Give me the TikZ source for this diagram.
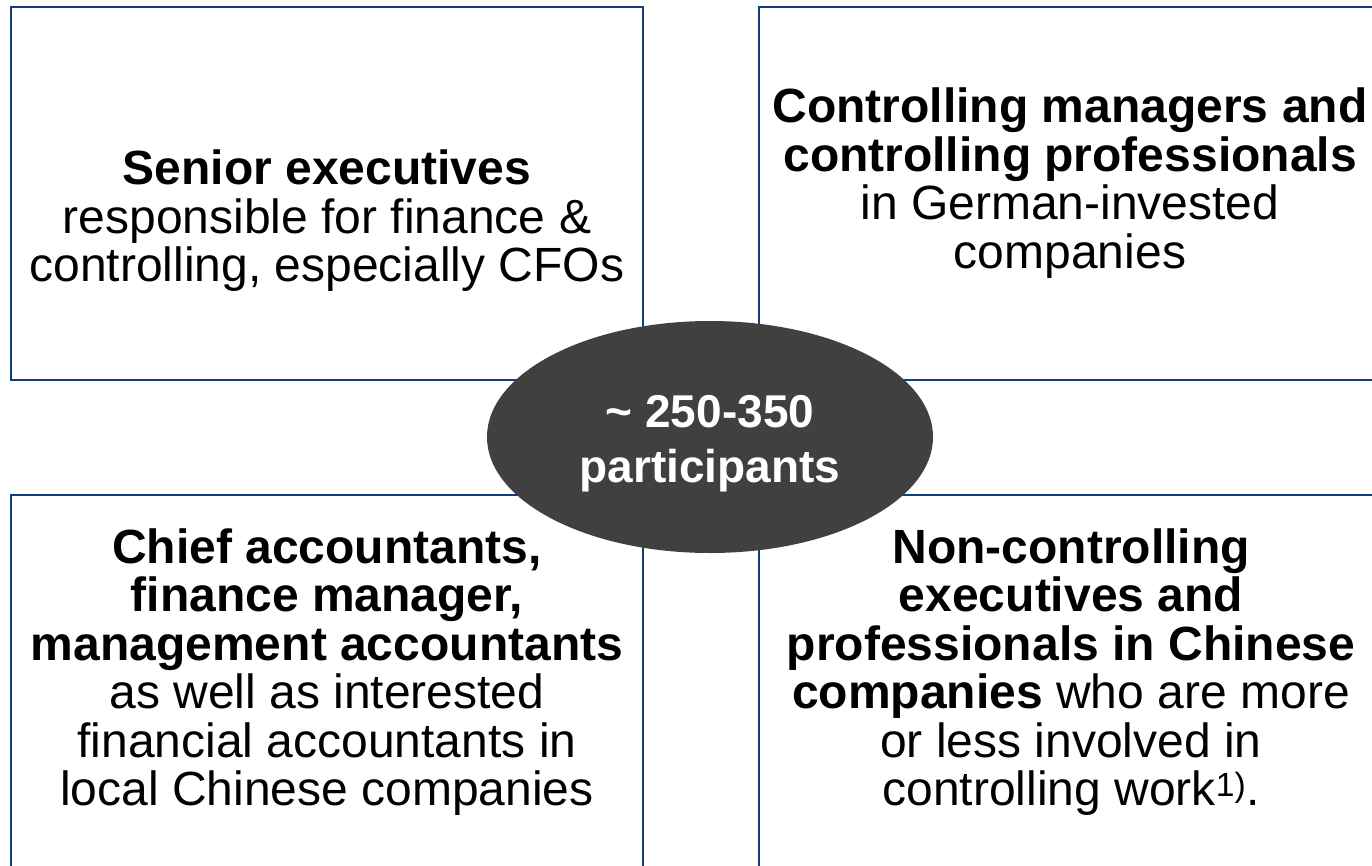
\documentclass[tikz,border=0pt]{standalone}
\usepackage{fontspec}
\setmainfont{Liberation Sans}
\usetikzlibrary{shapes.geometric}
\definecolor{frameblue}{RGB}{15,62,122}
\definecolor{ovalgray}{RGB}{64,64,64}
\tikzset{
  groupbox/.style={draw=frameblue,line width=2.5pt,fill=white},
  grouptext/.style={align=center,inner sep=0pt,font=\fontsize{48}{48.5}\selectfont},
  ovaltext/.style={align=center,inner sep=0pt,text=white,font=\fontsize{46}{55}\selectfont\bfseries},
}
\begin{document}
\begin{tikzpicture}[x=1pt,y=-1pt]
\useasboundingbox (0,0) rectangle (1372,865);
\draw[groupbox] (11,7) rectangle (643,380);
\draw[groupbox] (759,7) rectangle (1391,380);
\draw[groupbox] (11,495) rectangle (643,868);
\draw[groupbox] (759,495) rectangle (1391,868);
\node[ellipse,fill=ovalgray,minimum width=446pt,minimum height=232pt,inner sep=0pt] (oval) at (710,437) {};
\node[ovaltext] (ovallbl) at (710,444) {\textasciitilde{} 250-350\\participants};
\node[grouptext] (tl) at (327,221) {\textbf{Senior executives}\\responsible for finance \&\\controlling, especially CFOs};
\node[grouptext] (tr) at (1070,183) {\textbf{Controlling managers and}\\\textbf{controlling professionals}\\in German-invested\\companies};
\node[grouptext] (bl) at (327,672) {\textbf{Chief accountants,}\\\textbf{finance manager,}\\\textbf{management accountants}\\as well as interested\\financial accountants in\\local Chinese companies};
\node[grouptext] (br) at (1071,672) {\textbf{Non-controlling}\\\textbf{executives and}\\\textbf{professionals in Chinese}\\\textbf{companies} who are more\\or less involved in\\controlling work\textsuperscript{1)}.};
\end{tikzpicture}
\end{document}
